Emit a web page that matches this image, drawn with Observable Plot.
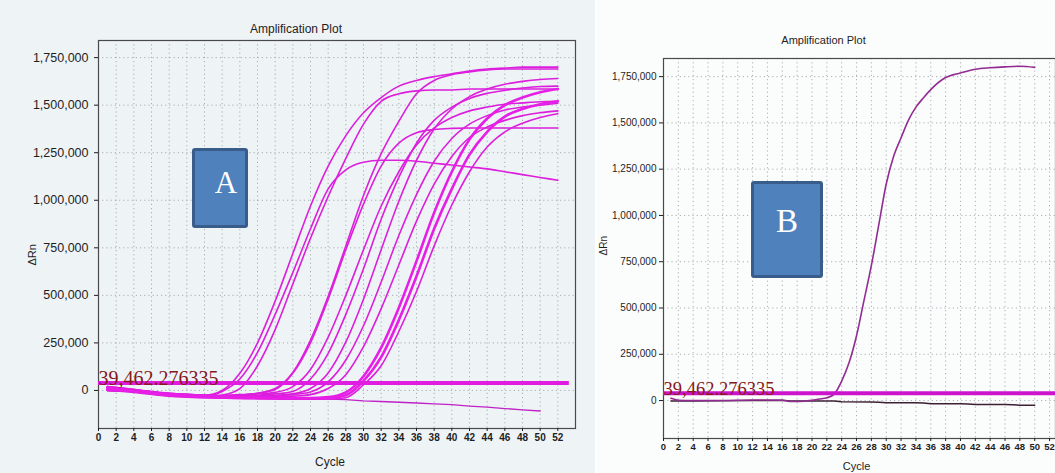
<!DOCTYPE html>
<html><head><meta charset="utf-8">
<script src="https://cdn.jsdelivr.net/npm/d3@7"></script>
<script src="https://cdn.jsdelivr.net/npm/@observablehq/plot@0.6"></script>
<style>
html,body{margin:0;padding:0;width:1055px;height:473px;overflow:hidden;background:#fff;}
#wrap{position:relative;width:1055px;height:473px;overflow:hidden;}
#panelA{position:absolute;left:0;top:0;width:595px;height:473px;background:#eef3f6;}
#panelB{position:absolute;left:597px;top:0;width:464px;height:473px;background:#fbfcfc;}
#wrap svg{max-width:none;}
.box{position:absolute;box-sizing:border-box;background:#4f81bd;border:3px solid #385d8a;border-radius:3px;color:#fff;font-family:"Liberation Serif","DejaVu Serif",serif;text-align:center;line-height:1;}
</style></head>
<body>
<div id="wrap">
  <div id="panelA"></div>
  <div id="panelB"></div>
  <div class="box" style="left:192px;top:148px;width:56px;height:80px;font-size:31px;padding-top:16px;padding-left:12px;">A</div>
  <div class="box" style="left:751px;top:181px;width:72px;height:97px;font-size:33px;padding-top:21px;">B</div>
</div>
<script>
// ---- data (ΔRn values in thousands) ----
const threshold = 39462.276335;
const thresholdLabel = "39,462.276335";
const xTicks = d3.range(0, 54, 2);
const yTicks = [0, 250000, 500000, 750000, 1000000, 1250000, 1500000, 1750000];

const cyclesA = [1,4,8,12,14,16,18,20,22,24,26,28,30,32,34,36,38,40,42,44,46,48,50,52];
const a1  = [10,0,-20,-25,0,90,250,470,720,970,1180,1340,1460,1540,1600,1630,1650,1665,1680,1690,1695,1700,1700,1700];
const a2  = [20,5,-20,-30,-5,60,200,400,620,850,1060,1160,1200,1210,1210,1205,1195,1185,1175,1165,1150,1135,1120,1105];
const a3  = [0,-5,-25,-35,-25,10,130,320,560,800,1020,1220,1400,1520,1560,1575,1580,1580,1585,1585,1585,1585,1585,1585];
const a4  = [10,0,-15,-25,-25,-22,-15,10,95,265,495,760,1025,1245,1415,1560,1630,1660,1675,1685,1690,1690,1690,1690];
const a5  = [15,5,-20,-30,-30,-25,-18,-10,20,110,280,500,740,970,1150,1290,1380,1435,1470,1490,1505,1512,1518,1520];
const a6  = [5,0,-20,-30,-30,-25,-15,5,90,250,480,740,980,1180,1300,1355,1372,1378,1380,1380,1380,1380,1380,1380];
const a7  = [0,-5,-25,-35,-35,-30,-25,-18,-5,60,195,400,640,900,1120,1300,1420,1490,1535,1562,1578,1590,1598,1600];
const a8  = [20,5,-15,-25,-30,-30,-28,-25,-18,10,92,255,480,740,995,1210,1375,1480,1545,1585,1610,1625,1635,1640];
const a9  = [10,0,-20,-30,-32,-32,-30,-28,-22,-8,45,160,340,570,815,1030,1205,1325,1400,1445,1475,1490,1500,1510];
const a10 = [0,-5,-25,-35,-38,-38,-36,-34,-30,-22,10,83,230,430,660,890,1085,1230,1330,1385,1420,1445,1460,1470];
const a11 = [15,0,-20,-30,-32,-34,-36,-38,-40,-40,-35,-10,75,225,435,680,935,1150,1320,1430,1500,1540,1568,1585];
const a12 = [5,-5,-25,-35,-38,-40,-40,-42,-42,-42,-40,-25,50,175,370,600,850,1060,1240,1360,1440,1480,1505,1520];
const a13 = [0,-10,-30,-38,-40,-42,-44,-45,-46,-46,-45,-38,30,130,310,520,760,975,1150,1280,1360,1405,1435,1455];
const aNeg = [0,-5,-15,-25,-28,-30,-32,-34,-36,-40,-45,-48,-55,-58,-62,-66,-70,-75,-82,-88,-95,-102,-108,null];

const cyclesB = [1,2,4,8,12,16,17,18,20,21,22,23,24,25,26,27,28,29,30,31,32,33,34,35,36,38,40,42,44,46,48,50];
const bAmp = [12,2,0,0,3,2,-5,-5,2,8,15,35,105,205,350,540,730,950,1170,1320,1420,1515,1585,1635,1680,1745,1770,1790,1798,1803,1806,1800];
const cyclesBNeg = [1,2,4,8,12,16,17,20,23,24,28,29,30,34,35,36,40,41,42,46,47,48,50];
const bNeg = [-3,-3,-2,-1,0,2,-2,-2,-3,-7,-8,-9,-12,-12,-13,-17,-17,-18,-21,-21,-22,-25,-25];

// ---- build tables ----
function rows(name, cycles, vals) {
  return cycles.map((c, i) => ({series: name, cycle: c, value: vals[i] == null ? null : vals[i] * 1000}));
}
const thinA = [["a1",a1],["a2",a2],["a3",a3],["a4",a4],["a5",a5],["a6",a6],["a7",a7],["a8",a8],["a9",a9],["a10",a10],["a13",a13]]
  .flatMap(([n, v]) => rows(n, cyclesA, v));
const thickA = [["a11",a11],["a12",a12]].flatMap(([n, v]) => rows(n, cyclesA, v));
const negA = rows("neg", cyclesA, aNeg);
const ampB = rows("b", cyclesB, bAmp);
const negB = rows("bneg", cyclesBNeg, bNeg);

const sans = "'Liberation Sans', Arial, sans-serif";
const serif = "'Liberation Serif', 'Times New Roman', serif";
const fmt = d3.format(",");

function panel(o) {
  return Plot.plot({
    width: o.width, height: 473,
    marginLeft: o.ml, marginRight: o.mr, marginTop: o.mt, marginBottom: o.mb,
    x: {domain: o.xDomain},
    y: {domain: o.yDomain},
    style: {background: "transparent", fontFamily: sans, color: "#1e1e1e", overflow: "visible", maxWidth: "none"},
    marks: [
      Plot.ruleX(xTicks, {stroke: "#8f979e", strokeDasharray: "1.2,3", strokeOpacity: 0.75}),
      Plot.ruleY(yTicks, {stroke: "#8f979e", strokeDasharray: "1.2,3", strokeOpacity: 0.75}),
      Plot.frame({stroke: "#4a4a4a", strokeWidth: 1.2}),
      Plot.axisX(xTicks, {tickSize: 3, tickPadding: 2, fontSize: o.xfs, label: null, fontWeight: "bold"}),
      Plot.axisY(yTicks, {tickSize: 4, tickPadding: o.ypad, fontSize: o.yfs, tickFormat: fmt, label: null}),
      ...o.curves,
      Plot.ruleY([threshold], {x1: 0, x2: o.thrEnd, stroke: o.thrColor, strokeWidth: 4}),
      Plot.text([thresholdLabel], {x: 0, y: threshold, text: d => d, textAnchor: "start", lineAnchor: "bottom",
        dy: 2, fontFamily: serif, fontSize: o.thrFs, fill: "#861818"}),
      Plot.text(["Amplification Plot"], {frameAnchor: "top", text: d => d, dy: o.titleDy, dx: o.titleDx, fontSize: o.tfs}),
      Plot.text(["Cycle"], {frameAnchor: "bottom", text: d => d, dy: o.cycleDy, dx: o.cycleDx, fontSize: o.tfs}),
      Plot.text(["ΔRn"], {frameAnchor: "left", text: d => d, dx: o.yLabDx, dy: o.yLabDy, rotate: -90, fontSize: o.tfs - 1})
    ]
  });
}

const chartA = panel({
  width: 595, ml: 98, mr: 20, mt: 40, mb: 45,
  xDomain: [0, 54], yDomain: [-200000, 1840000],
  xfs: 10, yfs: 12.5, ypad: 6, tfs: 12, thrFs: 20, thrEnd: 53.3, thrColor: "#e11ce1",
  titleDy: -16, titleDx: -41, cycleDy: 37, cycleDx: -7, yLabDx: -66, yLabDy: 31,
  curves: [
    Plot.line(negA, {x: "cycle", y: "value", z: "series", stroke: "#c022c8", strokeWidth: 1.3}),
    Plot.line(thinA, {x: "cycle", y: "value", z: "series", stroke: "#dc1fdc", strokeWidth: 1.6, curve: "monotone-x"}),
    Plot.line(thickA, {x: "cycle", y: "value", z: "series", stroke: "#e61ee6", strokeWidth: 2.6, curve: "monotone-x"})
  ]
});
const chartB = panel({
  width: 464, ml: 66, mr: 6, mt: 58, mb: 35,
  xDomain: [0, 52.8], yDomain: [-205000, 1848000],
  xfs: 9.5, yfs: 10, ypad: 3, tfs: 11, thrFs: 18.5, thrEnd: 52.8, thrColor: "#cc14cc",
  titleDy: -22, titleDx: -36, cycleDy: 31, cycleDx: -3, yLabDx: -60, yLabDy: 7,
  curves: [
    Plot.line(negB, {x: "cycle", y: "value", stroke: "#3d2034", strokeWidth: 1.5}),
    Plot.line(ampB, {x: "cycle", y: "value", stroke: "#922c92", strokeWidth: 1.6, curve: "monotone-x"})
  ]
});
document.getElementById("panelA").appendChild(chartA);
document.getElementById("panelB").appendChild(chartB);
</script>
</body></html>
